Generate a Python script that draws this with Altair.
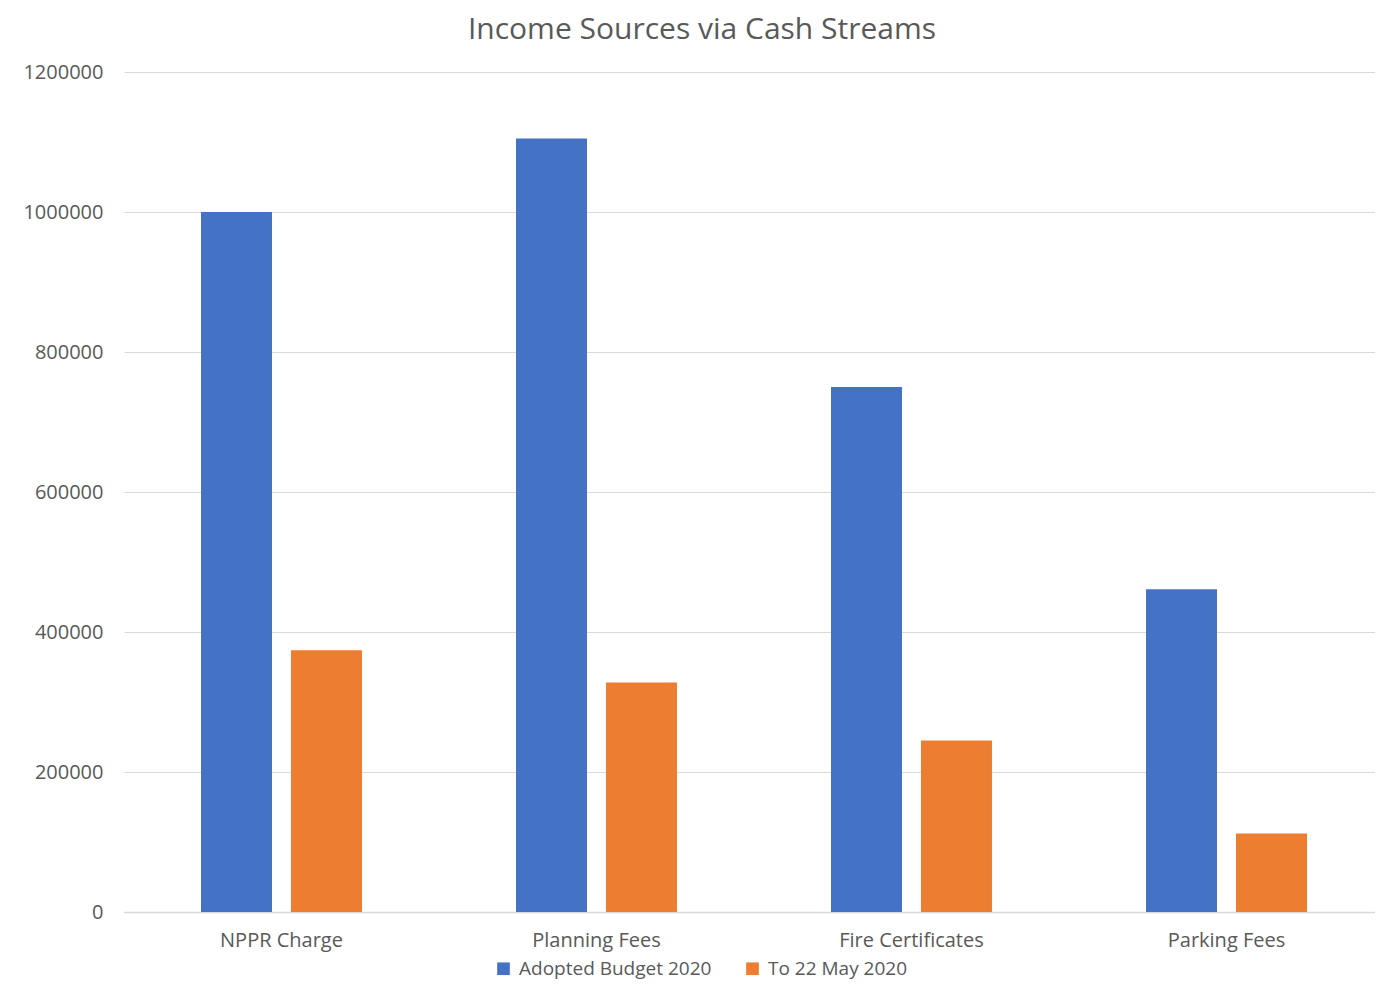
import altair as alt
import pandas as pd

categories = ["NPPR Charge", "Planning Fees", "Fire Certificates", "Parking Fees"]
series = ["Adopted Budget 2020", "To 22 May 2020"]
adopted = [1000000, 1105000, 750000, 461000]
to_date = [374000, 328000, 245000, 112000]
y_ticks = [0, 200000, 400000, 600000, 800000, 1000000, 1200000]

rows = []
for c, a, t in zip(categories, adopted, to_date):
    rows.append({"Category": c, "Series": series[0], "Value": a})
    rows.append({"Category": c, "Series": series[1], "Value": t})
df = pd.DataFrame(rows)

FONT = "Open Sans"
GREY = "#595959"

chart = alt.Chart(df).mark_bar().encode(
    x=alt.X("Category:N", sort=categories, title=None,
            scale=alt.Scale(paddingInner=0.489, paddingOuter=0.2302, align=0.531),
            axis=alt.Axis(labelAngle=0, labelFontSize=20, labelColor=GREY, labelFont=FONT,
                          labelPadding=18, ticks=False, domainColor="#d9d9d9", domainWidth=1.5)),
    xOffset=alt.XOffset("Series:N", sort=series,
                        scale=alt.Scale(paddingInner=0.211, paddingOuter=0)),
    y=alt.Y("Value:Q", title=None,
            scale=alt.Scale(domain=[0, 1200000], nice=False),
            axis=alt.Axis(values=y_ticks, format="d", labelFontSize=20, labelColor=GREY,
                          labelFont=FONT, labelPadding=21, ticks=False, domain=False,
                          gridColor="#d9d9d9", gridWidth=1.2)),
    color=alt.Color("Series:N", sort=series,
                    scale=alt.Scale(domain=series, range=["#4472C4", "#ED7D31"]),
                    legend=alt.Legend(title=None, orient="none", direction="horizontal",
                                      legendX=370, legendY=887, symbolType="square",
                                      symbolSize=160, symbolStrokeWidth=0,
                                      labelFontSize=19, labelColor=GREY, labelFont=FONT,
                                      labelLimit=400, labelOffset=6, columnPadding=31,
                                      padding=0)),
).properties(
    width=1251,
    height=840,
    title=alt.Title("Income Sources via Cash Streams", fontSize=30, font=FONT,
                    fontWeight="normal", color=GREY, anchor="middle", frame="bounds",
                    offset=17, dx=3),
    padding={"left": 14, "top": 7, "right": 0, "bottom": 3},
).configure_view(stroke=None)

chart.save("out.html", embed_options={"renderer": "svg", "actions": False})
